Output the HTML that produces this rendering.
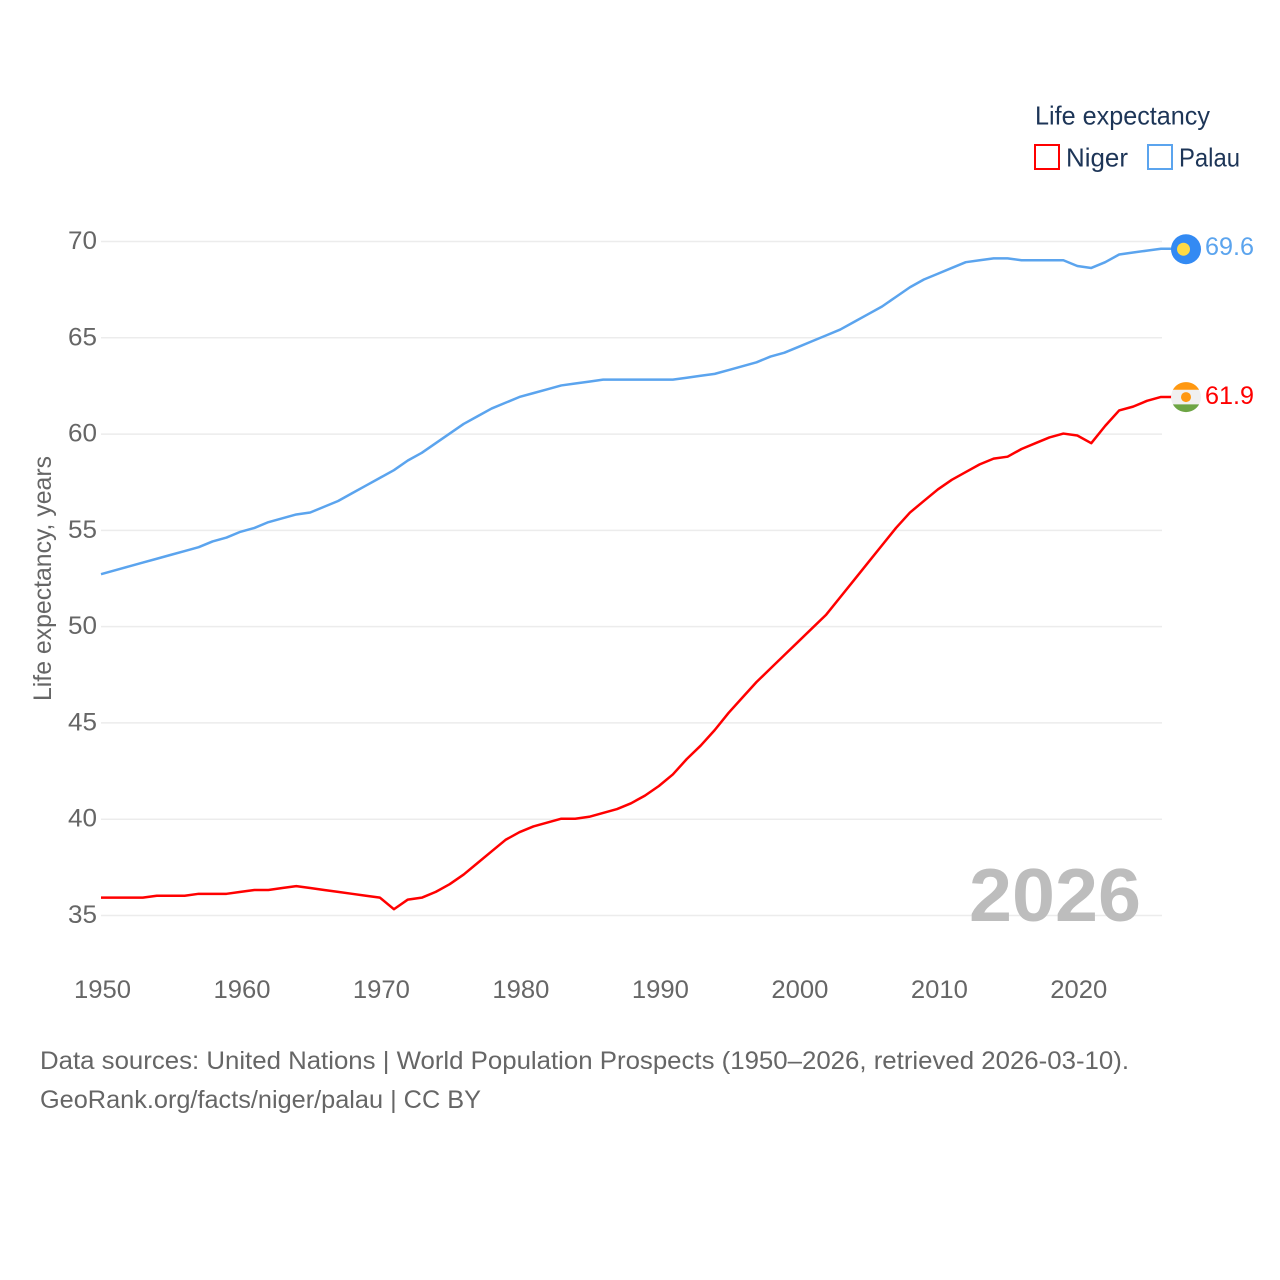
<!DOCTYPE html>
<html lang="en">
<head>
<meta charset="utf-8">
<title>Life expectancy: Niger and Palau</title>
<style>
html,body{margin:0;padding:0;background:#fff;}
svg{display:block;font-family:"Liberation Sans",sans-serif;}
</style>
</head>
<body>
<svg id="chart" xmlns="http://www.w3.org/2000/svg" width="1280" height="1280" viewBox="0 0 1280 1280">
  <rect x="0" y="0" width="1280" height="1280" fill="#fff"/>
  <g id="grid"></g>
  <g id="yticks"></g>
  <g id="xticks"></g>
  <text x="969" y="921" font-size="75" font-weight="bold" fill="#bdbdbd" textLength="172" lengthAdjust="spacingAndGlyphs">2026</text>
  <g id="series"></g>
  <g id="ends"></g>
  <text transform="translate(51,701) rotate(-90)" font-size="25" fill="#666" textLength="245" lengthAdjust="spacingAndGlyphs">Life expectancy, years</text>
  <text x="1035" y="124.500" font-size="26" fill="#1d3557" textLength="175" lengthAdjust="spacingAndGlyphs">Life expectancy</text>
  <g>
    <rect x="1035" y="145" width="24" height="24" fill="#fff" stroke="#ff0000" stroke-width="2"/>
    <text x="1066" y="166.500" font-size="26" fill="#1d3557" textLength="62" lengthAdjust="spacingAndGlyphs">Niger</text>
  </g>
  <g>
    <rect x="1148" y="145" width="24" height="24" fill="#fff" stroke="#5ba4ee" stroke-width="2"/>
    <text x="1179" y="166.500" font-size="26" fill="#1d3557" textLength="61" lengthAdjust="spacingAndGlyphs">Palau</text>
  </g>
  <text x="40" y="1069" font-size="25" fill="#666" textLength="1089" lengthAdjust="spacingAndGlyphs">Data sources: United Nations | World Population Prospects (1950–2026, retrieved 2026-03-10).</text>
  <text x="40" y="1108" font-size="25" fill="#666" textLength="441" lengthAdjust="spacingAndGlyphs">GeoRank.org/facts/niger/palau | CC BY</text>
</svg>
<script>
const startYear = 1950;
const endYear = 2026;
const yTickValues = [35, 40, 45, 50, 55, 60, 65, 70];
const xTickValues = [1950, 1960, 1970, 1980, 1990, 2000, 2010, 2020];
const nigerValues = [
  35.9,35.9,35.9,35.9,36.0,36.0,36.0,36.1,36.1,36.1,
  36.2,36.3,36.3,36.4,36.5,36.4,36.3,36.2,36.1,36.0,
  35.9,35.3,35.8,35.9,36.2,36.6,37.1,37.7,38.3,38.9,
  39.3,39.6,39.8,40.0,40.0,40.1,40.3,40.5,40.8,41.2,
  41.7,42.3,43.1,43.8,44.6,45.5,46.3,47.1,47.8,48.5,
  49.2,49.9,50.6,51.5,52.4,53.3,54.2,55.1,55.9,56.5,
  57.1,57.6,58.0,58.4,58.7,58.8,59.2,59.5,59.8,60.0,
  59.9,59.5,60.4,61.2,61.4,61.7,61.9
];
const palauValues = [
  52.7,52.9,53.1,53.3,53.5,53.7,53.9,54.1,54.4,54.6,
  54.9,55.1,55.4,55.6,55.8,55.9,56.2,56.5,56.9,57.3,
  57.7,58.1,58.6,59.0,59.5,60.0,60.5,60.9,61.3,61.6,
  61.9,62.1,62.3,62.5,62.6,62.7,62.8,62.8,62.8,62.8,
  62.8,62.8,62.9,63.0,63.1,63.3,63.5,63.7,64.0,64.2,
  64.5,64.8,65.1,65.4,65.8,66.2,66.6,67.1,67.6,68.0,
  68.3,68.6,68.9,69.0,69.1,69.1,69.0,69.0,69.0,69.0,
  68.7,68.6,68.9,69.3,69.4,69.5,69.6
];

const NS = 'http://www.w3.org/2000/svg';
const x = function (year) { return 102 + (year - 1950) * (1162 - 102) / 76; };
const y = function (v) { return 915.5 - (v - 35) * (915.5 - 241.5) / 35; };
const lineOffsetX = -1;
const lineOffsetY = -0.5;

function mk(parent, tag, attrs, text) {
  const el = document.createElementNS(NS, tag);
  for (const k in attrs) el.setAttribute(k, attrs[k]);
  if (text !== undefined) el.textContent = text;
  parent.appendChild(el);
  return el;
}

const grid = document.getElementById('grid');
const yticks = document.getElementById('yticks');
const xticks = document.getElementById('xticks');
const seriesGroup = document.getElementById('series');
const ends = document.getElementById('ends');

yTickValues.forEach(function (v) {
  const line = mk(grid, 'line', { x1: 101, x2: 1162, y1: y(v), y2: y(v), stroke: '#ececec', 'stroke-width': 1.5 });
  
  
  const label = mk(yticks, 'text', { x: 97, y: y(v) + 7.5, 'font-size': 25, fill: '#666', 'text-anchor': 'end', textLength: 29, lengthAdjust: 'spacingAndGlyphs' }, String(v));
  
  
});

xTickValues.forEach(function (year) {
  const label = mk(xticks, 'text', { x: x(year) + 0.5, y: 998, 'font-size': 25, fill: '#666', 'text-anchor': 'middle', textLength: 57, lengthAdjust: 'spacingAndGlyphs' }, String(year));
  
  
});

function years(values) {
  return values.map(function (v, i) { return [x(startYear + i) + lineOffsetX, y(v) + lineOffsetY]; });
}

function drawLine(values, color, name) {
  const pts = years(values);
  const last = values[values.length - 1];
  pts.push([1172, y(last) + lineOffsetY]);
  const d = pts.map(function (p, i) { return (i ? 'L' : 'M') + p[0].toFixed(2) + ' ' + p[1].toFixed(2); }).join('');
  const path = mk(seriesGroup, 'path', { d: d, fill: 'none', stroke: color, 'stroke-width': 2.5, 'stroke-linejoin': 'round' });
  
  
}
drawLine(nigerValues, '#ff0000', 'line-niger');
drawLine(palauValues, '#5ba4ee', 'line-palau');

/* Palau end marker */
const palauLast = palauValues[palauValues.length - 1];
const palauY = y(palauLast);
const palauFlag = mk(ends, 'g', {});


mk(palauFlag, 'circle', { cx: 1186, cy: palauY, r: 15, fill: '#338af3' });
mk(palauFlag, 'circle', { cx: 1183.5, cy: palauY, r: 6.5, fill: '#ffda44' });
const palauLabel = mk(ends, 'text', { x: 1205, y: palauY + 6, 'font-size': 25, fill: '#5ba4ee', textLength: 49, lengthAdjust: 'spacingAndGlyphs' }, palauLast.toFixed(1));



/* Niger end marker */
const nigerLast = nigerValues[nigerValues.length - 1];
const nigerY = y(nigerLast);
const nigerFlag = mk(ends, 'g', {});


const cy = nigerY - 0.4;
mk(nigerFlag, 'circle', { cx: 1186, cy: cy, r: 15, fill: '#f0f0f0' });
mk(nigerFlag, 'path', { d: 'M1172.9 ' + (cy - 7.3) + 'A15 15 0 0 1 1199.1 ' + (cy - 7.3) + 'Z', fill: '#ff9811' });
mk(nigerFlag, 'path', { d: 'M1172.9 ' + (cy + 7.3) + 'A15 15 0 0 0 1199.1 ' + (cy + 7.3) + 'Z', fill: '#6da544' });
mk(nigerFlag, 'circle', { cx: 1186, cy: cy, r: 5, fill: '#ff9811' });
const nigerLabel = mk(ends, 'text', { x: 1205, y: nigerY + 6.5, 'font-size': 25, fill: '#ff0000', textLength: 49, lengthAdjust: 'spacingAndGlyphs' }, nigerLast.toFixed(1));


</script>
</body>
</html>
